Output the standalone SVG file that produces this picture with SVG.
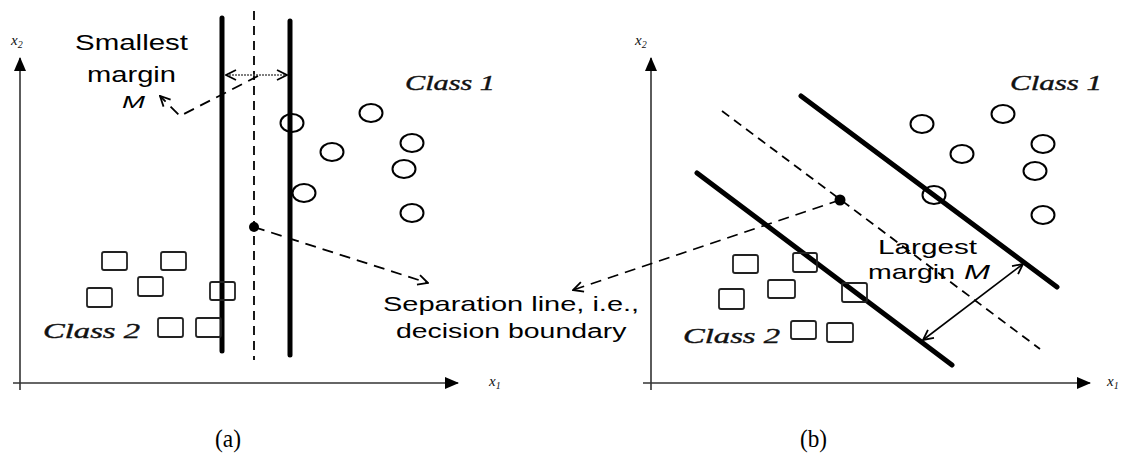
<svg xmlns="http://www.w3.org/2000/svg" width="1127" height="468" viewBox="0 0 1127 468">
<defs>
<marker id="open" viewBox="0 0 12 12" refX="11" refY="6" markerWidth="12" markerHeight="12" markerUnits="userSpaceOnUse" orient="auto-start-reverse">
<path d="M1,1 L11,6 L1,11" fill="none" stroke="#000" stroke-width="1.8"/>
</marker>
<marker id="solid" viewBox="0 0 14 12" refX="13" refY="6" markerWidth="14" markerHeight="12" markerUnits="userSpaceOnUse" orient="auto">
<path d="M0,0 L14,6 L0,12 Z" fill="#000"/>
</marker>
<style>
.axis{stroke:#333;stroke-width:1.6;fill:none}
.thick{stroke:#000;stroke-width:5;fill:none;stroke-linecap:round}
.sep{stroke:#000;stroke-width:1.8;fill:none;stroke-dasharray:9 6}
.lead{stroke:#000;stroke-width:1.8;fill:none;stroke-dasharray:11 7}
.c1{fill:none;stroke:#000;stroke-width:2}
.c2{fill:none;stroke:#222;stroke-width:1.8}
.sans{font-family:"Liberation Sans",Arial,sans-serif;fill:#000}
.cls{font-family:"Liberation Serif","Times New Roman",serif;font-style:italic;fill:#111;stroke:#111;stroke-width:0.4}
.ax{font-family:"Liberation Serif","Times New Roman",serif;font-style:italic;fill:#111}
.cap{font-family:"Liberation Serif","Times New Roman",serif;fill:#000}
</style>
</defs>
<rect width="1127" height="468" fill="#fff"/>

<g id="panel-a">
<g id="axes-a">
<line class="axis" x1="20" y1="390" x2="20" y2="58" marker-end="url(#solid)"/>
<line class="axis" x1="13" y1="383" x2="458" y2="383" marker-end="url(#solid)"/>
<text class="ax" x="11" y="45" font-size="15">x<tspan font-size="10" dy="3">2</tspan></text>
<text class="ax" x="489" y="386" font-size="15">x<tspan font-size="10" dy="3">1</tspan></text>
</g>
<g id="boundaries-a">
<line class="thick" x1="222" y1="18" x2="222" y2="351"/>
<line class="thick" x1="290" y1="21" x2="290" y2="355"/>
<line class="sep" x1="254" y1="11" x2="254" y2="360"/>
</g>
<g id="class1-a">
<ellipse class="c1" cx="292" cy="123" rx="11.5" ry="9"/>
<ellipse class="c1" cx="371" cy="113" rx="11.5" ry="9"/>
<ellipse class="c1" cx="332" cy="152" rx="11.5" ry="9"/>
<ellipse class="c1" cx="412" cy="143" rx="11.5" ry="9"/>
<ellipse class="c1" cx="404" cy="169" rx="11.5" ry="9"/>
<ellipse class="c1" cx="304" cy="193" rx="11.5" ry="9"/>
<ellipse class="c1" cx="412" cy="213" rx="11.5" ry="9"/>
<text class="cls" x="405" y="90" font-size="22" textLength="90" lengthAdjust="spacingAndGlyphs">Class 1</text>
</g>
<g id="class2-a">
<rect class="c2" x="102" y="252" width="25" height="18" rx="2"/>
<rect class="c2" x="161" y="252" width="25" height="18" rx="2"/>
<rect class="c2" x="138" y="277" width="25" height="19" rx="2"/>
<rect class="c2" x="87" y="288" width="25" height="19" rx="2"/>
<rect class="c2" x="210" y="282" width="25" height="18" rx="2"/>
<rect class="c2" x="158" y="318" width="25" height="19" rx="2"/>
<rect class="c2" x="196" y="318" width="25" height="19" rx="2"/>
<text class="cls" x="43" y="338" font-size="22" textLength="97" lengthAdjust="spacingAndGlyphs">Class 2</text>
</g>
<g id="margin-a">
<line x1="226" y1="75" x2="287" y2="75" stroke="#555" stroke-width="1.6" stroke-dasharray="2 1" marker-start="url(#open)" marker-end="url(#open)"/>
<text class="sans" x="75" y="50" font-size="22" textLength="113" lengthAdjust="spacingAndGlyphs">Smallest</text>
<text class="sans" x="87" y="82" font-size="22" textLength="89" lengthAdjust="spacingAndGlyphs">margin</text>
<text class="sans" x="122" y="108" font-size="17" font-style="italic" textLength="23" lengthAdjust="spacingAndGlyphs">M</text>
</g>
<circle id="dot-a" cx="254" cy="227" r="5"/>
</g>

<g id="panel-b">
<g id="axes-b">
<line class="axis" x1="651" y1="390" x2="651" y2="58" marker-end="url(#solid)"/>
<line class="axis" x1="643" y1="383" x2="1090" y2="383" marker-end="url(#solid)"/>
<text class="ax" x="635" y="45" font-size="15">x<tspan font-size="10" dy="3">2</tspan></text>
<text class="ax" x="1107" y="386" font-size="15">x<tspan font-size="10" dy="3">1</tspan></text>
</g>
<g id="boundaries-b">
<line class="thick" x1="697" y1="173" x2="952" y2="365"/>
<line class="thick" x1="801" y1="96" x2="1057" y2="287"/>
<line class="sep" x1="722" y1="111" x2="1040" y2="349"/>
</g>
<g id="class1-b">
<ellipse class="c1" cx="922" cy="124" rx="11.5" ry="9"/>
<ellipse class="c1" cx="1003" cy="114" rx="11.5" ry="9"/>
<ellipse class="c1" cx="962" cy="154" rx="11.5" ry="9"/>
<ellipse class="c1" cx="1043" cy="144" rx="11.5" ry="9"/>
<ellipse class="c1" cx="1035" cy="171" rx="11.5" ry="9"/>
<ellipse class="c1" cx="934" cy="195" rx="11.5" ry="9"/>
<ellipse class="c1" cx="1043" cy="215" rx="11.5" ry="9"/>
<text class="cls" x="1010" y="90" font-size="22" textLength="92" lengthAdjust="spacingAndGlyphs">Class 1</text>
</g>
<g id="class2-b">
<rect class="c2" x="733" y="255" width="25" height="18" rx="2"/>
<rect class="c2" x="793" y="253" width="24" height="19" rx="2"/>
<rect class="c2" x="768" y="280" width="27" height="18" rx="2"/>
<rect class="c2" x="719" y="289" width="25" height="20" rx="2"/>
<rect class="c2" x="842" y="283" width="25" height="19" rx="2"/>
<rect class="c2" x="791" y="321" width="25" height="18" rx="2"/>
<rect class="c2" x="827" y="323" width="26" height="19" rx="2"/>
<text class="cls" x="683" y="343" font-size="22" textLength="97" lengthAdjust="spacingAndGlyphs">Class 2</text>
</g>
<g id="margin-b">
<line x1="923" y1="340" x2="1023" y2="264" stroke="#000" stroke-width="1.6" marker-start="url(#open)" marker-end="url(#open)"/>
<text class="sans" x="878" y="254" font-size="21" textLength="99" lengthAdjust="spacingAndGlyphs">Largest</text>
<text class="sans" x="868" y="279" font-size="21" textLength="87" lengthAdjust="spacingAndGlyphs">margin</text>
<text class="sans" x="964" y="279" font-size="20" font-style="italic" textLength="26" lengthAdjust="spacingAndGlyphs">M</text>
</g>
<circle id="dot-b" cx="840" cy="200" r="5.5"/>
</g>

<g id="connectors">
<polyline class="lead" points="258,76 180,116 160,96" marker-end="url(#open)"/>
<line class="lead" x1="254" y1="227" x2="428" y2="283" marker-end="url(#open)"/>
<line class="lead" x1="840" y1="200" x2="573" y2="290" marker-end="url(#open)"/>
</g>

<g id="separation-label">
<text class="sans" font-size="20" transform="translate(383,311) scale(1.45,1)">Separation line, i.e.,</text>
<text class="sans" font-size="20" transform="translate(396,338) scale(1.42,1)">decision boundary</text>
</g>

<text class="cap" x="215" y="447" font-size="26" textLength="26" lengthAdjust="spacingAndGlyphs">(a)</text>
<text class="cap" x="800" y="447" font-size="26" textLength="27" lengthAdjust="spacingAndGlyphs">(b)</text>
</svg>
